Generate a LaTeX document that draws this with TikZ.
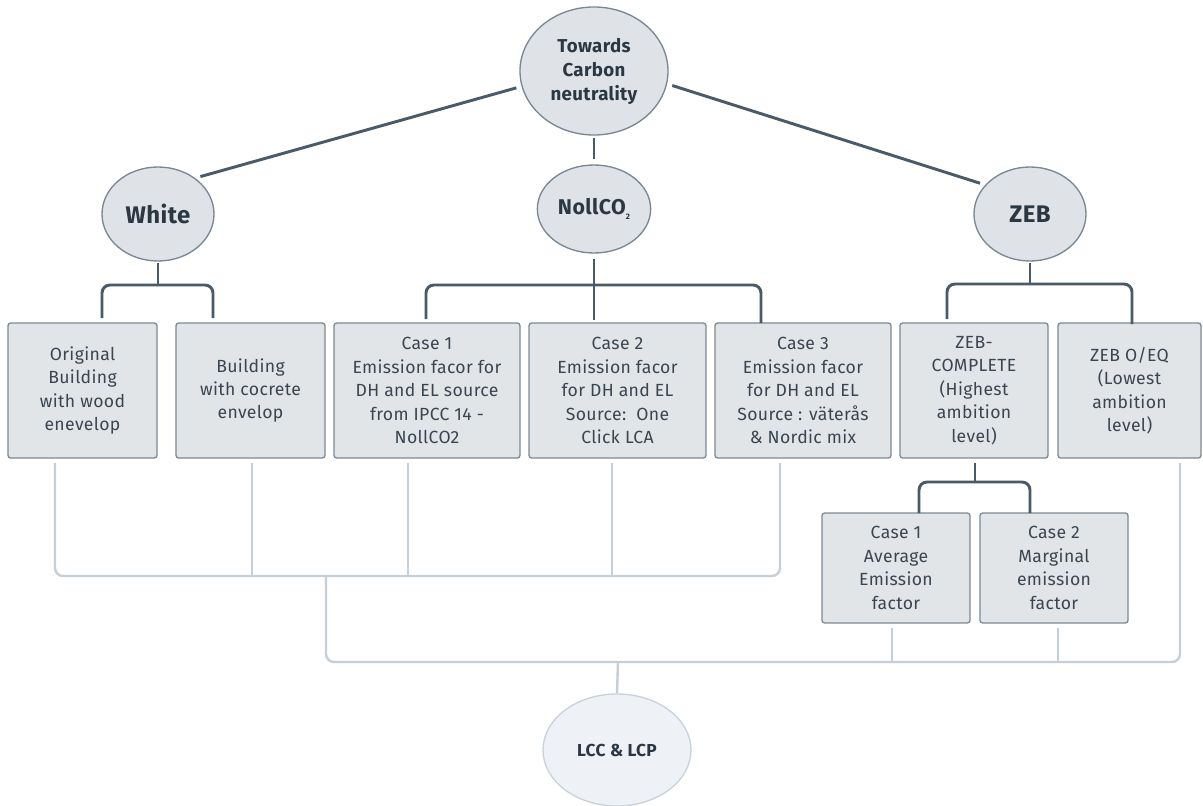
\documentclass[tikz,border=0pt]{standalone}
\usepackage{fontspec}
\setmainfont{Fira Sans}[LetterSpace=2]
\usetikzlibrary{shapes.geometric,positioning}
\definecolor{slate}{HTML}{4B5A68}
\definecolor{ink}{HTML}{2B3844}
\definecolor{boxink}{HTML}{3A4550}
\definecolor{ellfill}{HTML}{DFE2E6}
\definecolor{ellborder}{HTML}{7A8794}
\definecolor{boxfill}{HTML}{E2E5E8}
\definecolor{boxborder}{HTML}{7D8995}
\definecolor{palefill}{HTML}{EEF2F6}
\definecolor{paleborder}{HTML}{C9D2DA}
\definecolor{lightline}{HTML}{C6CFD8}

\begin{document}
\begin{tikzpicture}[x=0.75pt,y=-0.75pt,
goal/.style={ellipse,draw=ellborder,fill=ellfill,line width=1pt,inner sep=0pt,text=ink,align=center},
case/.style={rectangle,rounded corners=2pt,draw=boxborder,fill=boxfill,line width=1pt,inner sep=0pt,text=boxink,align=center,font=\fontsize{13.2}{17.6}\selectfont},
trunk/.style={draw=slate,line width=2.2pt,rounded corners=6pt},
light/.style={draw=lightline,line width=1.8pt,rounded corners=6pt}]
\fill[white] (0,0) rectangle (1203,806);
\useasboundingbox (0,0) rectangle (1203,806);

% goals
\node[goal,minimum width=111pt,minimum height=96pt,font=\bfseries\fontsize{14}{18}\selectfont] (top) at (594,71) {Towards\\Carbon\\neutrality};
\node[goal,minimum width=84pt,minimum height=70.5pt,font=\bfseries\fontsize{18}{20}\selectfont] (white) at (158,214) {White};
\node[goal,minimum width=85pt,minimum height=66pt,font=\bfseries\fontsize{16}{18}\selectfont] (noll) at (594,209) {NollCO{\fontsize{6}{6}\selectfont\raisebox{-4pt}{2}}};
\node[goal,minimum width=84pt,minimum height=70.5pt,font=\bfseries\fontsize{18}{20}\selectfont] (zeb) at (1030,214) {ZEB};
\node[goal,draw=paleborder,fill=palefill,minimum width=111pt,minimum height=84pt,font=\bfseries\fontsize{13}{16}\selectfont] (lcc) at (617,750) {LCC \& LCP};

% cases
\node[case,minimum width=111.75pt,minimum height=101.25pt] (orig) at (82.5,390.5) {Original\\Building\\with wood\\enevelop};
\node[case,minimum width=111.75pt,minimum height=101.25pt] (concrete) at (250.5,390.5) {Building\\with cocrete\\envelop};
\node[case,minimum width=139.5pt,minimum height=101.25pt] (ipcc) at (427,390.5) {Case 1\\Emission facor for\\DH and EL source\\from IPCC 14 -\\NollCO2};
\node[case,minimum width=132.75pt,minimum height=101.25pt] (oneclick) at (617.5,390.5) {Case 2\\Emission facor\\for DH and EL\\Source:\ \ One\\Click LCA};
\node[case,minimum width=132pt,minimum height=101.25pt] (nordic) at (803,390.5) {Case 3\\Emission facor\\for DH and EL\\Source : väterås\\\& Nordic mix};
\node[case,minimum width=111pt,minimum height=101.25pt] (complete) at (974,390.5) {ZEB-\\COMPLETE\\(Highest\\ambition\\level)};
\node[case,minimum width=107.25pt,minimum height=101.25pt] (oeq) at (1129.5,390.5) {ZEB O/EQ\\(Lowest\\ambition\\level)};
\node[case,minimum width=111pt,minimum height=82.5pt] (average) at (896,568) {Case 1\\Average\\Emission\\factor};
\node[case,minimum width=111pt,minimum height=82.5pt] (marginal) at (1054,568) {Case 2\\Marginal\\emission\\factor};

% top level links
\draw[trunk,shorten <=4pt,shorten >=4pt] (top.192) -- (white.44);
\draw[trunk,shorten <=4pt,shorten >=4pt] (top.350) -- (zeb.147);
\draw[trunk,shorten <=2pt,shorten >=4pt] (top.south) -- (noll.north);

% brackets
\coordinate (wj) at (158,285);
\coordinate (w1) at (102,318);
\coordinate (w2) at (213,318);
\draw[trunk,shorten <=1pt] (white.south) -- (wj);
\draw[trunk] (w1) |- (wj) -| (w2);

\coordinate (nj) at (594,285);
\coordinate (n1) at (426,319);
\coordinate (n2) at (594,320);
\coordinate (n3) at (761,323);
\draw[trunk,shorten <=4pt] (noll.south) -- (n2);
\draw[trunk] (n1) |- (nj) -| (n3);

\coordinate (zj) at (1030,284);
\coordinate (z1) at (947,319);
\coordinate (z2) at (1132,324);
\draw[trunk,shorten <=1pt] (zeb.south) -- (zj);
\draw[trunk] (z1) |- (zj) -| (z2);

\coordinate (cj) at (975,482);
\coordinate (c0) at (975,463);
\coordinate (c1) at (919,513);
\coordinate (c2) at (1030,513);
\draw[trunk] (c0) -- (cj);
\draw[trunk] (c1) |- (cj) -| (c2);

% gathering lines
\coordinate (g1) at (55,463);
\coordinate (g2) at (252,463);
\coordinate (g3) at (408,463);
\coordinate (g4) at (612,463);
\coordinate (g5) at (780,463);
\coordinate (gj) at (326,576);
\draw[light] (g1) |- (gj) -| (g5);
\foreach \g in {g2,g3,g4}
  \draw[light] (\g) -- (\g |- gj);

\coordinate (h1) at (892,628);
\coordinate (h2) at (1058,628);
\coordinate (h3) at (1180,463);
\coordinate (hj) at (618,662);
\draw[light] (gj) |- (hj) -| (h3);
\foreach \h in {h1,h2}
  \draw[light] (\h) -- (\h |- hj);
\draw[light] (hj) -- (lcc.north);
\end{tikzpicture}
\end{document}
